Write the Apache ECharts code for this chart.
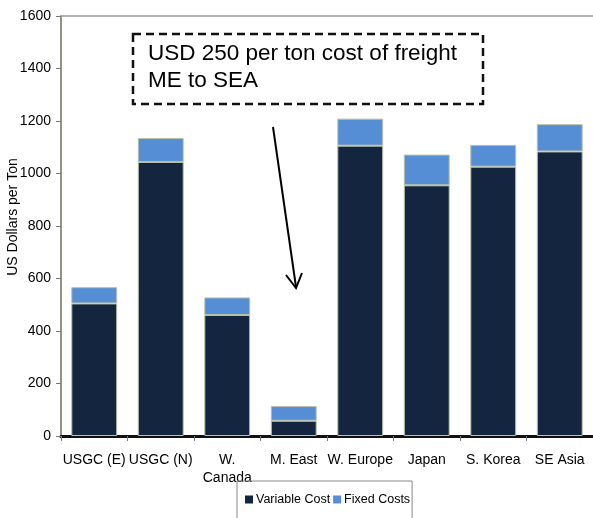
<!DOCTYPE html>
<html><head><meta charset="utf-8">
<script src="https://cdn.jsdelivr.net/npm/echarts@6/dist/echarts.min.js"></script>
<style>html,body{margin:0;padding:0;background:#fff}#c{width:593px;height:518px}</style>
</head><body><div id="c"></div>
<script>
const categories = ['USGC (E)', 'USGC (N)', 'W.\nCanada', 'M. East', 'W. Europe', 'Japan', 'S. Korea', 'SE Asia'];
const variableCost = [505, 1044, 461, 58, 1106, 955, 1026, 1084];
const fixedCosts = [62, 91, 67, 56, 103, 117, 83, 104];
const yTicks = [0, 200, 400, 600, 800, 1000, 1200, 1400, 1600];
const annotationLines = ['USD 250 per ton cost of freight', 'ME to SEA'];

const chart = echarts.init(document.getElementById('c'));
const FONT = 'Liberation Sans, Arial, sans-serif';
chart.setOption({
  animation: false,
  grid: { left: 61, right: 0, top: 16, bottom: 82, containLabel: false, outerBoundsMode: 'none' },
  xAxis: [{
    type: 'category', data: categories,
    axisLine: { lineStyle: { color: '#111', width: 3 } },
    axisTick: { show: true, length: 5, lineStyle: { color: '#777' } },
    axisLabel: { color: '#000', fontFamily: FONT, fontSize: 14, margin: 15, lineHeight: 18, interval: 0 }
  }, {
    type: 'category', data: categories, position: 'top',
    axisLine: { lineStyle: { color: '#999', width: 1.5 } },
    axisTick: { show: false }, axisLabel: { show: false }
  }],
  yAxis: {
    type: 'value', min: yTicks[0], max: yTicks[yTicks.length - 1], interval: 200,
    name: 'US Dollars per Ton', nameLocation: 'middle', nameGap: 48, nameRotate: 90,
    nameMoveOverlap: false,
    nameTextStyle: { color: '#000', fontFamily: FONT, fontSize: 14, verticalAlign: 'middle', padding: [0, 0, 0, 18] },
    axisLine: { show: true, lineStyle: { color: '#6f6f55', width: 1.5 } },
    axisTick: { show: true, length: 5, lineStyle: { color: '#777' } },
    axisLabel: { color: '#000', fontFamily: FONT, fontSize: 14, margin: 10, formatter: v => String(v) },
    splitLine: { show: false }
  },
  legend: {
    left: 237, top: 481, padding: [12, 2, 22, 8],
    borderColor: '#888', borderWidth: 1, itemWidth: 8, itemHeight: 8, itemGap: 3,
    icon: 'rect', itemStyle: { borderWidth: 0 },
    textStyle: { color: '#000', fontFamily: FONT, fontSize: 12.5, padding: [0, 0, 0, -2] },
    data: ['Variable Cost', 'Fixed Costs']
  },
  series: [{
    name: 'Variable Cost', type: 'bar', stack: 'a', data: variableCost, barWidth: '69%',
    itemStyle: { color: '#13253f', borderColor: '#b9c2a6', borderWidth: 1 }
  }, {
    name: 'Fixed Costs', type: 'bar', stack: 'a', data: fixedCosts, barWidth: '69%',
    itemStyle: { color: '#558ed5', borderColor: '#b9c2a6', borderWidth: 1 }
  }],
  graphic: [{
    type: 'rect', shape: { x: 133, y: 34, width: 350, height: 70 },
    style: { fill: '#fff', stroke: '#111', lineWidth: 2.5, lineDash: [8, 5] }
  }, {
    type: 'text', left: 148, top: 40,
    style: { text: annotationLines.join('\n'), fill: '#000', font: '22.5px ' + FONT, lineHeight: 27 }
  }, {
    type: 'line', shape: { x1: 273, y1: 127, x2: 296, y2: 287 },
    style: { stroke: '#000', lineWidth: 2 }
  }, {
    type: 'polyline', shape: { points: [[286, 275], [296, 288], [302, 273]] },
    style: { stroke: '#000', lineWidth: 2, fill: null }
  }]
});
</script></body></html>
